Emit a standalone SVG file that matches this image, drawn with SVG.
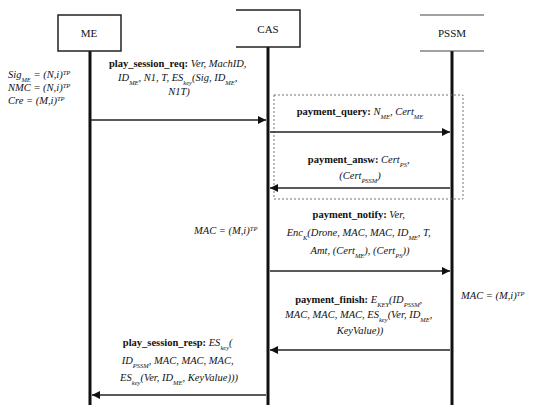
<svg xmlns="http://www.w3.org/2000/svg" width="533" height="405" viewBox="0 0 533 405">
<style>
text{font-family:"Liberation Serif","Times New Roman",serif;font-size:10.5px;fill:#111}
.hd{font-size:11px}
.it{font-style:italic}
.b{font-weight:bold}
.s{font-size:6.5px;baseline-shift:sub}
.p{font-size:6.5px;baseline-shift:super}
.life{stroke:#111;stroke-width:3;fill:none}
.hdr{stroke:#222;stroke-width:1.5;fill:#fff}
.msg{stroke:#222;stroke-width:1.3;fill:none;marker-end:url(#ah)}
.dash{stroke:#777;stroke-width:1;stroke-dasharray:2,2;fill:none}
</style>
<defs>
<marker id="ah" viewBox="0 0 10 10" refX="10" refY="5" markerWidth="8" markerHeight="8" markerUnits="userSpaceOnUse" orient="auto">
<path d="M0,0 L10,5 L0,10 z" fill="#111"/>
</marker>
</defs>
<rect width="533" height="405" fill="#fff"/>
<g id="lifelines">
<line class="life" x1="90" y1="51" x2="90" y2="405"/>
<line class="life" x1="268" y1="47" x2="268" y2="405"/>
<line class="life" x1="452" y1="51" x2="452" y2="405"/>
</g>
<g id="node-me">
<rect class="hdr" x="58" y="15" width="63" height="36"/>
<text class="hd" x="89" y="37" text-anchor="middle">ME</text>
</g>
<g id="node-cas">
<rect x="236" y="10" width="64" height="37" fill="#fff"/>
<path d="M236,10 H300 V47 H236" fill="none" stroke="#222" stroke-width="1.5"/>
<text class="hd" x="268" y="33" text-anchor="middle">CAS</text>
</g>
<g id="node-pssm">
<line x1="420" y1="15" x2="484" y2="15" stroke="#444" stroke-width="1.2"/>
<line x1="420" y1="51" x2="484" y2="51" stroke="#444" stroke-width="1.2"/>
<text class="hd" x="452" y="37" text-anchor="middle">PSSM</text>
</g>
<g id="dashed-box">
<rect class="dash" x="274" y="95" width="189" height="104"/>
</g>
<g id="connectors">
<line class="msg" x1="91" y1="120" x2="266" y2="120"/>
<line class="msg" x1="270" y1="132" x2="450" y2="132"/>
<line class="msg" x1="450" y1="188" x2="270" y2="188"/>
<line class="msg" x1="270" y1="271" x2="450" y2="271"/>
<line class="msg" x1="450" y1="350" x2="270" y2="350"/>
<line class="msg" x1="266" y1="395" x2="92" y2="395"/>
</g>
<g id="labels">
<text text-anchor="middle"><tspan class="b" x="179" y="67">play_session_req: </tspan><tspan class="it">Ver, MachID,</tspan>
<tspan class="it" x="179" y="81">ID<tspan class="s">ME</tspan>, N1, T, ES<tspan class="s">key</tspan>(Sig, ID<tspan class="s">ME</tspan>,</tspan>
<tspan class="it" x="179" y="95">N1T)</tspan></text>
<text class="it"><tspan x="8" y="78">Sig<tspan class="s">ME</tspan> = (N,i)<tspan class="p">TP</tspan></tspan>
<tspan x="8" y="91">NMC = (N,i)<tspan class="p">TP</tspan></tspan>
<tspan x="8" y="104">Cre = (M,i)<tspan class="p">TP</tspan></tspan></text>
<text text-anchor="middle"><tspan class="b" x="360" y="115">payment_query: </tspan><tspan class="it">N<tspan class="s">ME</tspan>, Cert<tspan class="s">ME</tspan></tspan></text>
<text text-anchor="middle"><tspan class="b" x="360" y="163">payment_answ: </tspan><tspan class="it">Cert<tspan class="s">PS</tspan>,</tspan>
<tspan class="it" x="360" y="179">(Cert<tspan class="s">PSSM</tspan>)</tspan></text>
<text class="it"><tspan x="194" y="234">MAC = (M,i)<tspan class="p">TP</tspan></tspan></text>
<text text-anchor="middle"><tspan class="b" x="360" y="218">payment_notify: </tspan><tspan class="it">Ver,</tspan>
<tspan class="it" x="360" y="236">Enc<tspan class="s">K</tspan>(Drone, MAC, MAC, ID<tspan class="s">ME</tspan>, T,</tspan>
<tspan class="it" x="360" y="254">Amt, (Cert<tspan class="s">ME</tspan>), (Cert<tspan class="s">PS</tspan>))</tspan></text>
<text text-anchor="middle"><tspan class="b" x="360" y="303">payment_finish: </tspan><tspan class="it">E<tspan class="s">KEY</tspan>(ID<tspan class="s">PSSM</tspan>,</tspan>
<tspan class="it" x="360" y="318">MAC, MAC, MAC, ES<tspan class="s">key</tspan>(Ver, ID<tspan class="s">ME</tspan>,</tspan>
<tspan class="it" x="360" y="334">KeyValue))</tspan></text>
<text class="it"><tspan x="461" y="299">MAC = (M,i)<tspan class="p">TP</tspan></tspan></text>
<text text-anchor="middle"><tspan class="b" x="179" y="346">play_session_resp: </tspan><tspan class="it">ES<tspan class="s">key</tspan>(</tspan>
<tspan class="it" x="179" y="364">ID<tspan class="s">PSSM</tspan>, MAC, MAC, MAC,</tspan>
<tspan class="it" x="179" y="381">ES<tspan class="s">key</tspan>(Ver, ID<tspan class="s">ME</tspan>, KeyValue)))</tspan></text>
</g>
</svg>
